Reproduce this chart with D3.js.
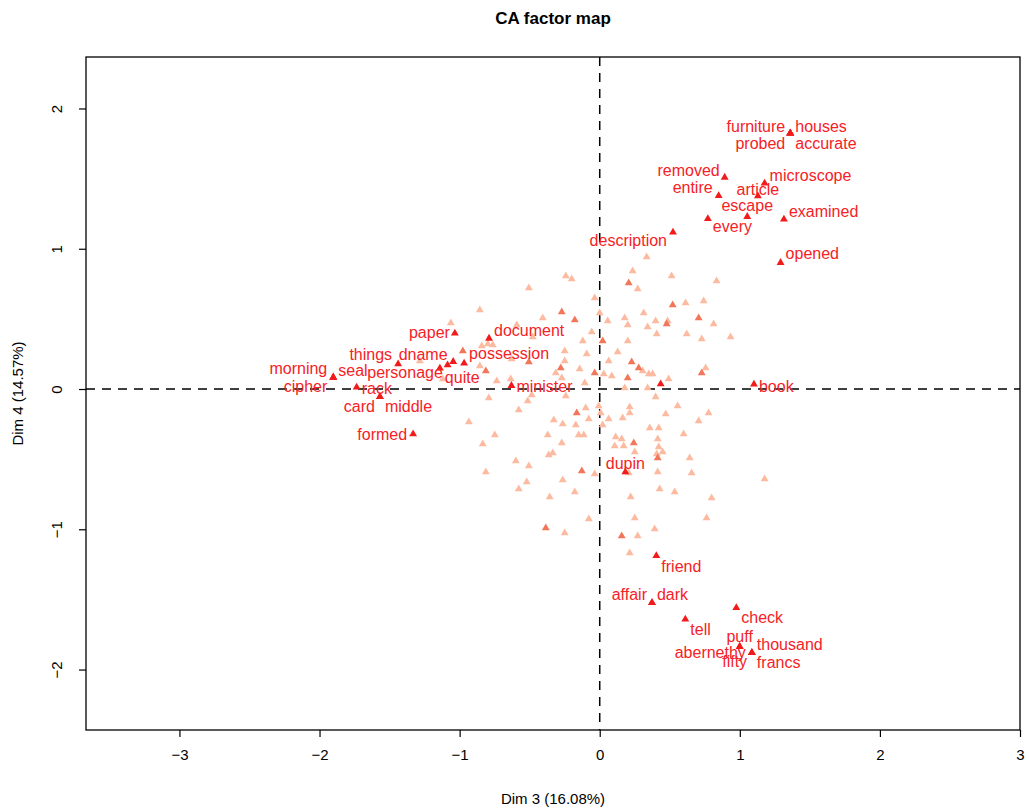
<!DOCTYPE html>
<html>
<head>
<meta charset="utf-8">
<script src="https://cdn.jsdelivr.net/npm/d3@7"></script>
<style>
  body { margin:0; background:#fff; }
  svg text { font-family:"Liberation Sans", Arial, Helvetica, sans-serif; }
</style>
</head>
<body>
<div id="chart"></div>
<script>
// labelled (selected) words
const wordNames = ["furniture","houses","probed","accurate","removed","microscope","entire","article",
  "escape","every","examined","description","opened","book","paper","document","things","personage",
  "dname","quite","possession","morning","seal","cipher","rack","card","middle","formed","minister",
  "dupin","friend","affair","dark","check","tell","puff","fifty","thousand","francs","abernethy"];
const wordX = [1.360,1.360,1.360,1.360,0.892,1.177,0.849,1.129,
  1.053,0.772,1.315,0.523,1.291,1.101,-1.034,-0.790,-1.439,-1.141,
  -1.086,-1.046,-0.968,-1.902,-1.902,-1.902,-1.735,-1.569,-1.569,-1.332,-0.630,
  0.183,0.404,0.373,0.373,0.975,0.611,0.999,0.999,1.086,1.086,1.086];
const wordY = [1.823,1.823,1.823,1.823,1.509,1.467,1.378,1.376,
  1.229,1.214,1.210,1.117,0.901,0.034,0.397,0.361,0.178,0.148,
  0.171,0.195,0.183,0.083,0.083,0.083,0.012,-0.055,-0.055,-0.321,0.024,
  -0.592,-1.189,-1.524,-1.524,-1.559,-1.642,-1.837,-1.837,-1.880,-1.880,-1.880];

// selected but unlabelled
const extraX = [0.435];
const extraY = [0.036];

// medium-weight rows
const midX = [0.207,0.521,-0.271,-0.178,0.478,0.706,0.021,-0.977,-0.506,0.228,0.278,0.728,-0.813,
  -0.278,-0.036,0.200,-0.164,0.243,0.414,-0.128,-0.385,0.157];
const midY = [0.756,0.599,0.549,0.492,0.463,0.506,0.342,0.271,0.193,0.193,0.150,0.114,0.128,
  0.150,0.114,0.078,-0.171,-0.385,-0.492,-0.585,-0.991,-1.048];

// faint rows
const faintX = [0.335,0.235,-0.242,-0.200,0.513,0.834,-0.506,0.271,-0.036,0.613,0.742,-0.856,-0.407,
  0.000,0.057,0.178,0.314,0.399,0.485,0.813,-1.063,-0.592,0.200,0.342,-0.057,-0.478,0.407,0.621,
  0.728,0.934,-0.842,-0.799,-0.763,-0.121,0.200,-0.250,-0.093,0.128,-0.628,-0.250,0.064,0.307,
  0.350,0.378,0.756,-0.856,-0.735,-0.635,-0.314,-0.271,-0.143,0.029,0.086,0.492,-0.107,0.178,
  0.342,-1.284,-1.120,
  -0.792,-0.485,-0.242,0.399,-0.514,-0.578,-0.100,-0.007,0.007,0.214,0.214,0.471,0.556,0.777,
  -0.934,-0.328,-0.264,-0.171,-0.078,0.021,0.064,0.164,0.357,0.421,0.706,-0.749,-0.371,-0.150,
  -0.114,0.599,-0.835,-0.271,0.114,0.157,0.414,0.107,0.171,-0.364,-0.335,0.250,0.421,0.449,
  0.407,0.642,-0.599,-0.506,-0.813,-0.036,0.207,0.414,0.656,1.177,-0.264,-0.521,-0.578,-0.178,
  0.428,0.535,-0.357,0.221,0.799,-0.078,0.250,0.763,0.392,-0.250,0.271,0.214];
const faintY = [0.941,0.841,0.806,0.784,0.806,0.770,0.720,0.713,0.649,0.613,0.627,0.563,0.506,
  0.542,0.485,0.506,0.542,0.485,0.485,0.463,0.471,0.456,0.456,0.442,0.406,0.371,0.392,0.392,
  0.357,0.371,0.307,0.321,0.314,0.342,0.342,0.271,0.250,0.264,0.214,0.200,0.200,0.128,
  0.107,0.107,0.150,0.164,0.057,0.071,0.114,0.078,0.143,0.107,0.093,0.071,0.043,0.007,
  0.007,0.200,0.071,
  -0.064,-0.043,-0.050,-0.057,-0.086,-0.150,-0.135,-0.121,-0.171,-0.128,-0.171,-0.178,-0.121,-0.171,
  -0.235,-0.221,-0.250,-0.257,-0.214,-0.257,-0.214,-0.207,-0.278,-0.278,-0.228,-0.328,-0.328,-0.328,
  -0.328,-0.321,-0.392,-0.385,-0.342,-0.357,-0.357,-0.406,-0.406,-0.471,-0.456,-0.449,-0.414,-0.449,
  -0.463,-0.492,-0.513,-0.549,-0.592,-0.606,-0.599,-0.592,-0.599,-0.642,-0.649,-0.663,-0.713,-0.734,
  -0.713,-0.734,-0.770,-0.770,-0.777,-0.927,-0.920,-0.920,-0.998,-1.027,-1.048,-1.169];

const xTicks = [-3,-2,-1,0,1,2,3];
const yTicks = [-2,-1,0,1,2];

// label nudges (px) as placed by the label avoider: [dx, dy, anchor]
const labelNudge = {
  furniture:[-5,-7,"end"], houses:[5,-7,"start"], probed:[-5,10,"end"], accurate:[5,10,"start"],
  removed:[-5,-7,"end"], microscope:[5,-8,"start"], entire:[-6,-8,"end"], article:[0,-7,"middle"],
  escape:[0,-11,"middle"], every:[5,8,"start"], examined:[5,-8,"start"], description:[-6,8,"end"],
  opened:[5,-9,"start"], book:[5,2,"start"], paper:[-5,-1,"end"], document:[5,-8,"start"],
  things:[-6,-10,"end"], personage:[3,4,"end"], dname:[0,-11,"end"], quite:[9,16,"middle"],
  possession:[5,-10,"start"], morning:[-6,-9,"end"], seal:[5,-7,"start"], cipher:[-6,9,"end"],
  rack:[5,1,"start"], card:[-5,10,"end"], middle:[5,10,"start"], formed:[-6,0,"end"],
  minister:[5,1,"start"], dupin:[0,-9,"middle"], friend:[5,11,"start"], affair:[-5,-8,"end"],
  dark:[5,-8,"start"], check:[5,10,"start"], tell:[5,10,"start"], puff:[0,-10,"middle"],
  fifty:[-5,15,"middle"], thousand:[5,-8,"start"], francs:[5,10,"start"], abernethy:[-6,0,"end"]
};

const margin = { top:57, right:9, bottom:79, left:86 };
const totalW = 1029, totalH = 809;
const W = totalW - margin.left - margin.right, H = totalH - margin.top - margin.bottom;

const root = d3.select("#chart").append("svg").attr("width", totalW).attr("height", totalH);
const svg = root.append("g").attr("transform", `translate(${margin.left},${margin.top})`);

const x = d3.scaleLinear().domain([-3.667, 3.0]).range([0, W]);
const y = d3.scaleLinear().domain([-2.431, 2.367]).range([H, 0]);

const tri = d3.symbol().type(d3.symbolTriangle).size(27);

// reference lines
svg.append("line").attr("x1", 0).attr("x2", W).attr("y1", y(0)).attr("y2", y(0))
  .attr("stroke", "#000").attr("stroke-width", 1.5).attr("stroke-dasharray", "9,7");
svg.append("line").attr("x1", x(0)).attr("x2", x(0)).attr("y1", 0).attr("y2", H)
  .attr("stroke", "#000").attr("stroke-width", 1.5).attr("stroke-dasharray", "9,7");

function drawPts(xs, ys, fill) {
  svg.append("g").selectAll("path").data(d3.range(xs.length)).join("path")
    .attr("d", tri)
    .attr("transform", i => `translate(${x(xs[i])},${y(ys[i])})`)
    .attr("fill", fill);
}
drawPts(faintX, faintY, "#FCBBA1");
drawPts(midX, midY, "#F2775A");
drawPts(extraX, extraY, "#F21B1B");
drawPts(wordX, wordY, "#F21B1B");

svg.append("g").selectAll("text").data(wordNames).join("text")
  .attr("x", (d, i) => x(wordX[i]) + labelNudge[d][0])
  .attr("y", (d, i) => y(wordY[i]) + labelNudge[d][1])
  .attr("text-anchor", d => labelNudge[d][2])
  .attr("dominant-baseline", "central")
  .attr("fill", "#F52226").style("font-size", "16px")
  .text(d => d);

// frame
svg.append("rect").attr("width", W).attr("height", H)
  .attr("fill", "none").attr("stroke", "#000").attr("stroke-width", 1.3);

// axes
const xAxis = svg.append("g").attr("transform", `translate(0,${H})`)
  .call(d3.axisBottom(x).tickValues(xTicks).tickSize(7).tickPadding(12).tickFormat(d3.format("d")));
const yAxis = svg.append("g")
  .call(d3.axisLeft(y).tickValues(yTicks).tickSize(7).tickFormat(d3.format("d")));
[xAxis, yAxis].forEach(a => {
  a.select(".domain").remove();
  a.selectAll(".tick line").attr("stroke", "#000").attr("stroke-width", 1.2);
  a.selectAll(".tick text").attr("fill", "#000").style("font-size", "15px")
    .style("font-family", "'Liberation Sans', Arial, sans-serif");
});
yAxis.selectAll(".tick text")
  .attr("transform", "rotate(-90)")
  .attr("x", 0).attr("y", -29)
  .attr("dy", "0.35em").attr("text-anchor", "middle");

// titles
root.append("text").attr("x", margin.left + W / 2).attr("y", 24)
  .attr("text-anchor", "middle").style("font-size", "17px").style("font-weight", "bold")
  .text("CA factor map");
root.append("text").attr("x", margin.left + W / 2).attr("y", 804)
  .attr("text-anchor", "middle").style("font-size", "15px")
  .text("Dim 3 (16.08%)");
root.append("text").attr("transform", `translate(23,${margin.top + H / 2}) rotate(-90)`)
  .attr("text-anchor", "middle").style("font-size", "15px")
  .text("Dim 4 (14.57%)");
</script>
</body>
</html>
